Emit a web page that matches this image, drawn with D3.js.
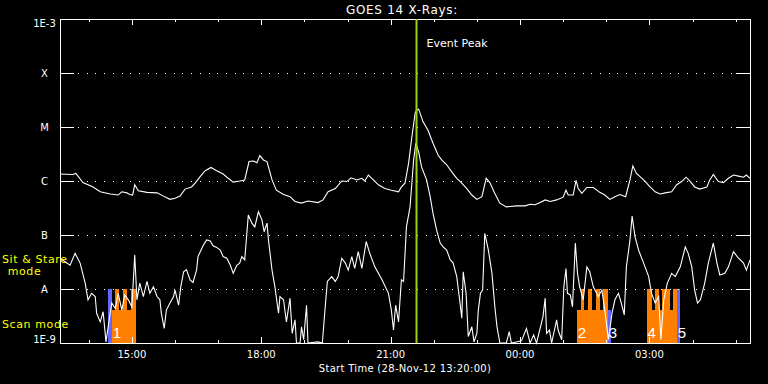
<!DOCTYPE html>
<html><head><meta charset="utf-8">
<script src="https://cdn.jsdelivr.net/npm/d3@7"></script>
<style>html,body{margin:0;padding:0;background:#000;}svg{display:block;}</style>
</head><body>
<svg id="chart" width="768" height="384"></svg>
<script>
// ---- data (time = minutes after start 28-Nov-12 13:20 UT, flux = log10 W/m^2) ----
const longMinutes = [0,18,22,32,46,56,70,81,86,93,97,101,104,109,121,135,144,153,160,167,174,183,188,195,202,210,218,227,234,241,250,257,263,269,274,278,283,288,295,301,311,320,327,336,345,359,366,373,383,392,399,405,413,420,424,429,436,443,452,461,471,475,480,485,489,494,496,499,505,512,519,526,531,538,545,552,559,566,573,580,587,593,598,605,612,621,635,647,654,661,668,675,682,691,700,704,707,714,718,721,726,733,742,751,758,765,772,779,787,793,797,802,812,821,828,835,842,851,858,865,871,877,883,890,900,904,909,916,923,930,937,944,951,955,960];
const longLogFlux = [-5.87,-5.88,-5.86,-6.03,-6.11,-6.20,-6.24,-6.26,-6.20,-6.22,-6.25,-6.26,-6.07,-6.18,-6.21,-6.22,-6.28,-6.34,-6.32,-6.28,-6.15,-6.11,-6.04,-5.92,-5.81,-5.75,-5.81,-5.87,-5.95,-6.02,-6.00,-5.98,-5.64,-5.63,-5.66,-5.53,-5.61,-5.64,-5.98,-6.17,-6.25,-6.29,-6.38,-6.41,-6.37,-6.40,-6.35,-6.20,-6.14,-6.00,-6.01,-5.94,-5.98,-5.95,-6.00,-5.89,-5.98,-6.07,-6.14,-6.17,-6.20,-6.11,-6.04,-5.67,-5.24,-4.75,-4.69,-4.67,-4.90,-5.06,-5.30,-5.52,-5.61,-5.70,-5.83,-5.95,-6.04,-6.14,-6.26,-6.34,-6.29,-5.95,-6.03,-6.23,-6.41,-6.48,-6.46,-6.46,-6.43,-6.44,-6.40,-6.35,-6.38,-6.35,-6.30,-6.17,-6.26,-6.26,-5.99,-6.14,-6.23,-6.12,-6.12,-6.21,-6.26,-6.34,-6.29,-6.25,-6.29,-5.98,-5.72,-5.86,-5.98,-6.11,-6.20,-6.24,-6.22,-6.20,-6.07,-6.01,-5.93,-6.01,-6.11,-6.15,-6.11,-5.98,-5.88,-6.01,-6.03,-5.95,-5.89,-5.91,-5.93,-5.89,-5.95];

const shortMinutes = [0,14,21,28,35,39,44,49,51,56,60,64,67,72,77,81,86,90,95,100,104,107,111,116,121,125,130,135,139,141,145,148,153,158,160,165,168,172,176,181,185,190,192,199,204,209,213,218,223,227,232,237,241,246,250,253,257,262,267,271,276,281,284,288,290,295,299,304,306,311,315,320,323,327,329,334,336,339,343,345,359,365,369,372,378,383,387,392,397,401,406,410,415,420,426,431,438,448,457,461,464,467,471,475,478,482,487,492,495,499,503,510,515,519,524,529,533,538,543,547,552,556,559,561,565,568,573,576,580,582,585,588,591,596,601,605,608,612,621,625,628,635,642,649,654,659,663,672,675,677,681,684,691,693,698,701,704,706,710,713,717,720,723,728,733,737,742,749,754,758,763,768,772,777,781,785,788,793,796,800,805,812,819,823,828,833,836,840,845,851,856,863,870,874,879,883,887,891,897,902,909,914,918,925,930,937,944,951,955,960];
const shortLogFlux = [-7.43,-7.56,-7.34,-7.52,-7.89,-8.20,-8.08,-8.14,-8.45,-8.61,-8.42,-8.98,-8.70,-8.26,-8.36,-8.08,-8.39,-8.11,-8.20,-8.33,-7.37,-8.20,-7.89,-8.14,-7.86,-8.08,-7.96,-8.14,-8.20,-8.45,-8.73,-8.39,-8.26,-8.14,-8.02,-8.30,-7.96,-7.68,-7.64,-7.83,-7.88,-7.65,-7.40,-7.20,-7.09,-7.11,-7.20,-7.23,-7.28,-7.40,-7.43,-7.56,-7.71,-7.56,-7.52,-7.40,-7.46,-6.63,-6.78,-6.85,-6.57,-6.72,-6.94,-6.78,-7.09,-7.65,-7.96,-8.45,-8.14,-8.20,-8.61,-8.17,-8.82,-8.57,-9.00,-9.00,-8.70,-8.94,-8.30,-9.00,-8.98,-9.00,-8.33,-7.86,-7.77,-7.86,-7.77,-7.43,-7.52,-7.65,-7.40,-7.62,-7.31,-7.62,-7.12,-7.34,-7.59,-7.83,-8.08,-8.39,-8.76,-8.30,-8.61,-7.83,-7.86,-6.85,-6.48,-5.61,-5.30,-5.46,-5.74,-5.98,-6.29,-6.60,-6.91,-7.15,-7.22,-7.28,-7.46,-7.52,-7.77,-8.20,-8.54,-7.68,-8.08,-8.88,-8.70,-8.98,-8.82,-8.39,-8.08,-8.02,-6.97,-7.28,-7.71,-8.33,-8.70,-9.00,-9.00,-8.79,-9.00,-8.98,-8.96,-8.73,-9.00,-8.85,-9.00,-8.51,-8.17,-8.82,-8.76,-9.00,-8.57,-8.76,-8.94,-7.96,-7.62,-8.08,-8.11,-8.33,-7.15,-7.71,-7.96,-8.20,-7.59,-7.68,-7.96,-8.14,-8.02,-8.39,-8.94,-8.45,-8.20,-8.08,-8.26,-8.48,-7.59,-7.09,-6.65,-7.03,-7.28,-7.52,-7.77,-8.08,-8.26,-8.14,-8.94,-8.20,-7.89,-7.71,-7.77,-7.59,-7.22,-7.34,-7.59,-8.02,-8.26,-8.20,-7.89,-7.52,-7.15,-7.52,-7.74,-7.71,-7.59,-7.31,-7.43,-7.52,-7.65,-7.46];

// observation segments (minutes after start)
const obsStart = [67,72,77,82,88,93,99, 719,725,729,735,740,746,751,755, 762, 816,823,828,833,837,849,853, 858];
const obsEnd   = [72,77,82,88,93,99,106, 725,729,735,740,746,751,755,762, 766, 823,828,833,837,849,853,858, 863];
const obsMode  = ['stare','scan','stare','scan','stare','scan','stare', 'scan','stare','scan','stare','scan','stare','scan','stare', 'scan', 'stare','scan','stare','scan','stare','scan','stare', 'stare'];
const obsKind  = ['b','o','o','o','o','o','o', 'o','o','o','o','o','o','o','o', 'b', 'o','o','o','o','o','o','o', 'b'];
const obsLabels = ['1','2','3','4','5'];
const obsLabelMinutes = [72,719,762,816,858];

const yTickValues = [1e-3,1e-4,1e-5,1e-6,1e-7,1e-8,1e-9];
const yTickLabels = ['1E-3','X','M','C','B','A','1E-9'];
const eventPeakMinutes = 496;
const titleText = 'GOES 14 X-Rays:';
const xTitleText = 'Start Time (28-Nov-12 13:20:00)';

// ---- drawing ----
const L=60, R=750, T=19, B=343;
const t0 = Date.UTC(2012,10,28,13,20);
const toDate = m => new Date(t0 + m*60000);
const x = d3.scaleUtc().domain([toDate(0), toDate(960)]).range([L,R]);
const y = d3.scaleLog().domain([1e-9,1e-3]).range([B,T]).clamp(true);
const modeLevel = {stare:1e-8, scan:4.1e-9};
const kindColor = {o:'#ff8000', b:'#6464ff'};
const FONT = 'DejaVu Sans, sans-serif';

const svg = d3.select('#chart');
svg.append('rect').attr('width',768).attr('height',384).attr('fill','#000');

// observation bars
const obs = obsStart.map((s,i)=>({s, e:obsEnd[i], mode:obsMode[i], kind:obsKind[i]}));
svg.append('g').selectAll('rect').data(obs).join('rect')
  .attr('x', d=>x(toDate(d.s)))
  .attr('width', d=>x(toDate(d.e))-x(toDate(d.s)))
  .attr('y', d=>y(modeLevel[d.mode]))
  .attr('height', d=>B - y(modeLevel[d.mode]))
  .attr('fill', d=>kindColor[d.kind])
  .attr('shape-rendering','crispEdges');

// grid dotted lines
const g = svg.append('g').attr('shape-rendering','crispEdges');
yTickValues.slice(1,-1).forEach(v=>{
  g.append('line').attr('x1',L+18).attr('x2',R-14).attr('y1',y(v)+0.5).attr('y2',y(v)+0.5)
   .attr('stroke','#fff').attr('stroke-dasharray','1,7.7');
  g.append('line').attr('x1',L).attr('x2',L+14).attr('y1',y(v)+0.5).attr('y2',y(v)+0.5).attr('stroke','#fff');
  g.append('line').attr('x1',R-14).attr('x2',R).attr('y1',y(v)+0.5).attr('y2',y(v)+0.5).attr('stroke','#fff');
});
// frame
g.append('rect').attr('x',L+0.5).attr('y',T+0.5).attr('width',R-L).attr('height',B-T)
 .attr('fill','none').attr('stroke','#fff');

// x ticks
const minor = x.ticks(d3.utcHour.every(1));
minor.forEach(d=>{
  const major = d.getUTCHours()%3===0;
  const len = major?6:3;
  const xx = Math.round(x(d))+0.5;
  g.append('line').attr('x1',xx).attr('x2',xx).attr('y1',B).attr('y2',B-len).attr('stroke','#fff');
  g.append('line').attr('x1',xx).attr('x2',xx).attr('y1',T).attr('y2',T+len).attr('stroke','#fff');
  if (major) {
    svg.append('text').attr('x',x(d)).attr('y',358).attr('text-anchor','middle')
      .attr('fill','#fff').attr('font-family',FONT).attr('font-size',10)
      .text(d3.utcFormat('%H:%M')(d));
  }
});

// y labels
yTickValues.forEach((v,i)=>{
  let yy = y(v)+4;
  if (i===0) yy = T+8;
  if (i===yTickValues.length-1) yy = B;
  svg.append('text').attr('x',44.5).attr('y',yy).attr('text-anchor','middle')
    .attr('fill','#fff').attr('font-family',FONT).attr('font-size',10).text(yTickLabels[i]);
});

// curves
const line = d3.line().x(d=>x(toDate(d[0]))).y(d=>y(Math.pow(10,d[1])));
svg.append('path').datum(longMinutes.map((m,i)=>[m,longLogFlux[i]]))
  .attr('d',line).attr('fill','none').attr('stroke','#fff').attr('stroke-width',1.1);
svg.append('path').datum(shortMinutes.map((m,i)=>[m,shortLogFlux[i]]))
  .attr('d',line).attr('fill','none').attr('stroke','#fff').attr('stroke-width',1.1);

// observation numbers
obsLabels.forEach((t,i)=>{
  svg.append('text').attr('x',x(toDate(obsLabelMinutes[i]))+1).attr('y',338)
    .attr('fill','#fff').attr('font-family','Liberation Sans, sans-serif').attr('font-size',15).text(t);
});

// event peak
const px = x(toDate(eventPeakMinutes));
svg.append('line').attr('x1',px).attr('x2',px).attr('y1',T).attr('y2',B)
  .attr('stroke','#a0d010').attr('stroke-width',2);
svg.append('text').attr('x',px+10).attr('y',47).attr('fill','#fff')
  .attr('font-family',FONT).attr('font-size',11).text('Event Peak');

// titles
svg.append('text').attr('x',402).attr('y',14).attr('text-anchor','middle').attr('fill','#fff')
  .attr('font-family',FONT).attr('font-size',12).attr('letter-spacing',0.7).text(titleText);
svg.append('text').attr('x',405).attr('y',372).attr('text-anchor','middle').attr('fill','#fff')
  .attr('font-family',FONT).attr('font-size',10).attr('letter-spacing',0.3).text(xTitleText);

// mode labels
const yl = svg.append('g').attr('fill','#ffff00').attr('font-family',FONT).attr('font-size',11).attr('letter-spacing',0.6);
yl.append('text').attr('x',2).attr('y',262.5).text('Sit & Stare');
yl.append('text').attr('x',24.5).attr('y',274.5).attr('text-anchor','middle').text('mode');
yl.append('text').attr('x',2).attr('y',328).text('Scan mode');
</script>
</body></html>
